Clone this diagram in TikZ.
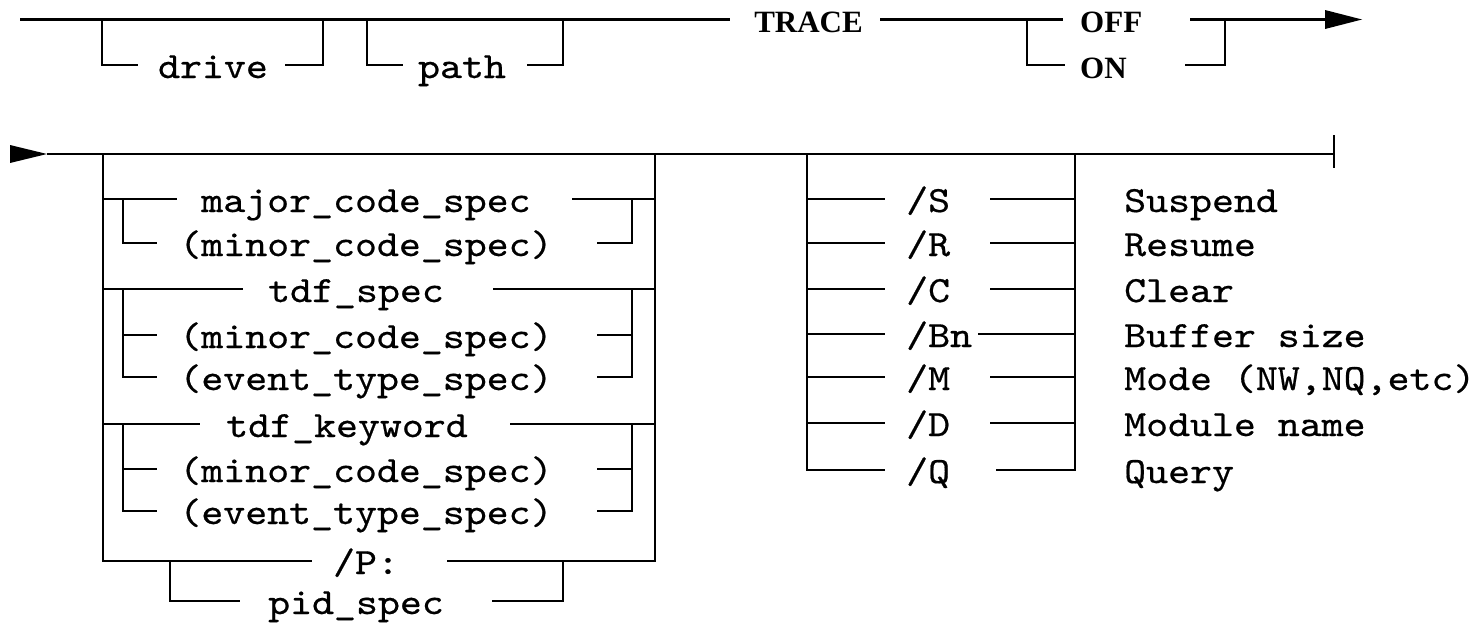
\documentclass[tikz,border=0pt]{standalone}
\usepackage{fontspec}
\newfontfamily\monof[FakeStretch=1.13,FakeBold=0.5]{lmmono10-regular.otf}
\newfontfamily\seriff{Liberation Serif}
\tikzset{
  rail/.style={line width=2.4pt, line join=miter, line cap=butt},
  mtxt/.style={font=\monof\fontsize{37}{40}\selectfont, inner sep=0pt, anchor=base},
  mtxtw/.style={mtxt, anchor=base west},
  ttxt/.style={font=\seriff\bfseries\fontsize{31}{33}\selectfont, inner sep=0pt, anchor=base},
  ttxtw/.style={ttxt, anchor=base west},
  head/.style={fill=black, draw=none}
}
\begin{document}
\begin{tikzpicture}[x=1pt,y=-1pt]
\useasboundingbox (0,0) rectangle (1480,622);
% ---------------- Row 1 ----------------
\coordinate (s1) at (20,19.5);
\coordinate (t1) at (730,19.5);
\coordinate (t2) at (880,19.5);
\coordinate (d1) at (102,19.5); \coordinate (d3) at (138,65);
\coordinate (d4) at (285,65);   \coordinate (d6) at (323,19.5);
\coordinate (p1) at (367,19.5); \coordinate (p3) at (403,65);
\coordinate (p4) at (527,65);   \coordinate (p6) at (563,19.5);
\coordinate (o1) at (1027,19.5); \coordinate (o3) at (1065,65);
\coordinate (o4) at (1063,19.5);
\coordinate (o5) at (1190,19.5);
\coordinate (o6) at (1185,65);  \coordinate (o8) at (1225,19.5);
\coordinate (ab1) at (1326,19.5);
\coordinate (atip1) at (1362,19.5);
\coordinate (au1) at (1325,10);  \coordinate (ad1) at (1325,29);

\node[mtxt] (drive) at (213,78) {drive};
\node[mtxt] (path) at (462,78) {path};
\node[ttxt] (trace) at (808.5,32.5) {TRACE};
\node[ttxtw] (off) at (1080,32.5) {OFF};
\node[ttxtw] (on) at (1080,78) {ON};

\draw[rail] (s1) -- (t1);
\draw[rail] (d1) |- (d3);
\draw[rail] (d4) -| (d6);
\draw[rail] (p1) |- (p3);
\draw[rail] (p4) -| (p6);
\draw[rail] (t2) -- (o4);
\draw[rail] (o1) |- (o3);
\draw[rail] (o6) -| (o8);
\draw[rail] (o5) -- (ab1);
\fill[head] (au1) -- (atip1) -- (ad1) -- cycle;

% ---------------- Row 2 ----------------
\coordinate (au2) at (10,145); \coordinate (ad2) at (10,163);
\coordinate (atip2) at (47,154);
\coordinate (endb) at (1334,154);
\coordinate (endt) at (1334,135); \coordinate (endd) at (1334,168);
\fill[head] (au2) -- (atip2) -- (ad2) -- cycle;
\draw[rail] (atip2) -- (endb);
\draw[line width=2.2pt] (endt) -- (endd);

% left block frame
\coordinate (L0) at (103,154); \coordinate (Pa) at (312,561);
\coordinate (R0) at (655,154); \coordinate (Pb) at (447,561);
\draw[rail] (L0) |- (Pa);
\draw[rail] (R0) |- (Pb);

% major_code_spec
\coordinate (m1a) at (103,199); \coordinate (m1b) at (177,199);
\coordinate (m1c) at (572,199); \coordinate (m1d) at (655,199);
\draw[rail] (m1a) -- (m1b);
\draw[rail] (m1c) -- (m1d);
\coordinate (b1a) at (123,199); \coordinate (b1b) at (157,243);
\coordinate (b1c) at (597,243); \coordinate (b1d) at (632,199);
\draw[rail] (b1a) |- (b1b);
\draw[rail] (b1c) -| (b1d);
\node[mtxt] (major) at (366,212) {major\_code\_spec};
\node[mtxt] (minor1) at (366,256) {(minor\_code\_spec)};

% tdf_spec
\coordinate (m2a) at (103,289); \coordinate (m2b) at (243,289);
\coordinate (m2c) at (493,289); \coordinate (m2d) at (655,289);
\draw[rail] (m2a) -- (m2b);
\draw[rail] (m2c) -- (m2d);
\coordinate (b2a) at (123,289); \coordinate (b2b) at (157,377);
\coordinate (b2m) at (123,335); \coordinate (b2n) at (157,335);
\coordinate (b2c) at (597,377); \coordinate (b2d) at (632,289);
\coordinate (b2p) at (597,335); \coordinate (b2q) at (632,335);
\draw[rail] (b2a) |- (b2b);
\draw[rail] (b2m) -- (b2n);
\draw[rail] (b2c) -| (b2d);
\draw[rail] (b2p) -- (b2q);
\node[mtxt] (tdfspec) at (356,302) {tdf\_spec};
\node[mtxt] (minor2) at (366,348) {(minor\_code\_spec)};
\node[mtxt] (event2) at (366,390) {(event\_type\_spec)};

% tdf_keyword
\coordinate (m3a) at (103,424); \coordinate (m3b) at (200,424);
\coordinate (m3c) at (510,424); \coordinate (m3d) at (655,424);
\draw[rail] (m3a) -- (m3b);
\draw[rail] (m3c) -- (m3d);
\coordinate (b3a) at (123,424); \coordinate (b3b) at (157,511);
\coordinate (b3m) at (123,469); \coordinate (b3n) at (157,469);
\coordinate (b3c) at (597,511); \coordinate (b3d) at (632,424);
\coordinate (b3p) at (597,469); \coordinate (b3q) at (632,469);
\draw[rail] (b3a) |- (b3b);
\draw[rail] (b3m) -- (b3n);
\draw[rail] (b3c) -| (b3d);
\draw[rail] (b3p) -- (b3q);
\node[mtxt] (tdfkw) at (347,437) {tdf\_keyword};
\node[mtxt] (minor3) at (366,482) {(minor\_code\_spec)};
\node[mtxt] (event3) at (366,524) {(event\_type\_spec)};

% /P: pid_spec
\coordinate (pa) at (170,561); \coordinate (pb) at (240,601);
\coordinate (pc) at (492,601); \coordinate (pd) at (563,561);
\draw[rail] (pa) |- (pb);
\draw[rail] (pc) -| (pd);
\node[mtxt] (pslash) at (366,574) {/P:};
\node[mtxt] (pid) at (356,614) {pid\_spec};

% right block
\coordinate (Q0) at (807,154); \coordinate (Qe) at (885,470);
\coordinate (Z0) at (1075,154); \coordinate (Ze) at (996,470);
\draw[rail] (Q0) |- (Qe);
\draw[rail] (Z0) |- (Ze);
\foreach \n/\yy/\xr in {S/199/990, R/243/990, C/289/990, B/334/978, M/377/990, D/423/990}{
  \coordinate (l\n a) at (807,\yy); \coordinate (l\n b) at (885,\yy);
  \coordinate (r\n a) at (\xr,\yy); \coordinate (r\n b) at (1075,\yy);
  \draw[rail] (l\n a) -- (l\n b);
  \draw[rail] (r\n a) -- (r\n b);
}
\node[mtxtw] (oS) at (906,212) {/S};
\node[mtxtw] (oR) at (906,256) {/R};
\node[mtxtw] (oC) at (906,302) {/C};
\node[mtxtw] (oB) at (906,347) {/Bn};
\node[mtxtw] (oM) at (906,390) {/M};
\node[mtxtw] (oD) at (906,436) {/D};
\node[mtxtw] (oQ) at (906,483) {/Q};
\node[mtxtw] (dS) at (1124,212) {Suspend};
\node[mtxtw] (dR) at (1124,256) {Resume};
\node[mtxtw] (dC) at (1124,302) {Clear};
\node[mtxtw] (dB) at (1124,347) {Buffer size};
\node[mtxtw] (dM) at (1124,390) {Mode (NW,NQ,etc)};
\node[mtxtw] (dD) at (1124,436) {Module name};
\node[mtxtw] (dQ) at (1124,483) {Query};
\end{tikzpicture}
\end{document}
